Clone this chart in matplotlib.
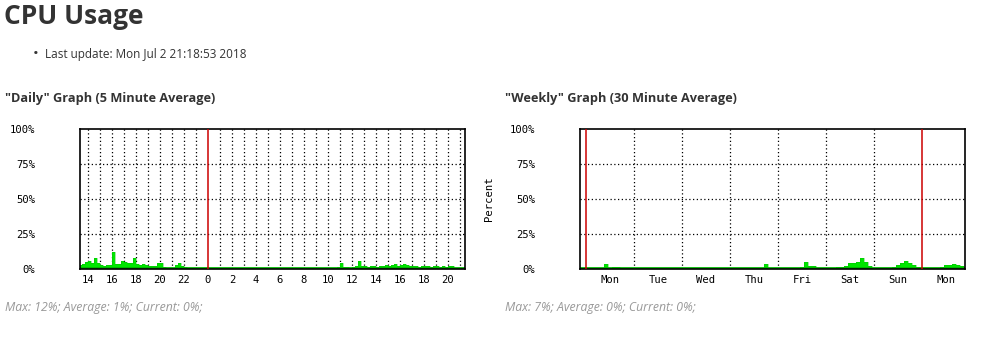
import numpy as np
import matplotlib
matplotlib.use("Agg")
import matplotlib.pyplot as plt

# ------------------ CONFIG ------------------
W, H = 982, 342
HEAD_FONT = ["Open Sans", "DejaVu Sans"]
TICK_FONT = "DejaVu Sans Mono"
FILL_GREEN = "#00e600"
EDGE_GREEN = "#00b400"
RED = "#cc0000"
DOTTED = (0, (1, 2))

# daily graph: CPU % sampled every 15 minutes, hours relative to midnight
DAILY_START = -10.75
DAILY_STEP = 0.25
DAILY_CPU = [
    3, 3.5, 5, 5.5, 4, 8, 4.5, 3, 2.5, 3, 3, 12.5, 3.5, 3.5, 6, 5,
    4, 4, 8, 3.5, 3, 3.5, 3, 2.5, 2, 2, 4.5, 4, 1.5, 1, 1, 1,
    3, 4.5, 2, 1.5, 1, 0.5, 0.5, 0.5, 0.5, 0.5, 0.5,
    0.3, 1, 0.3, 0.3, 0.3, 0.3, 0.3, 0.3, 0.3, 1, 0.3, 0.3, 0.3, 0.3, 0.3, 0.3,
    0.3, 0.3, 0.3, 0.3, 0.3, 0.3, 0.3, 0.3, 0.3, 0.3, 0.3, 0.3, 0.3, 0.3, 0.3,
    0.3, 0.3, 0.3, 0.3, 0.3, 1, 0.3, 0.3, 1, 0.3, 0.3, 0.5, 1.5,
    4.5, 1.5, 1.5, 1, 1.5, 2, 6, 2.5, 2, 1.5, 2, 2, 1.5, 2, 2.5, 3,
    2.5, 3, 3.5, 2.5, 3, 3.5, 3, 2, 2.5, 2, 1.5, 2, 2.5, 2, 1.5, 2,
    2, 1.5, 2, 1.5, 2, 2, 1, 1, 1,
]
DAILY_TICKS = list(range(-10, 21, 2))
DAILY_LABELS = [str(h % 24) for h in DAILY_TICKS]

# weekly graph: CPU % every 2 hours, hours relative to Monday 00:00
WEEKLY_START = -3
WEEKLY_STEP = 2
WEEKLY_CPU = [
    0.3, 0.3, 0.3, 0.3, 0.3, 0.3, 3.5, 1, 1.5, 1.5, 0.5,
    0.3, 0.3, 0.3, 0.3, 0.3, 0.3, 0.3, 0.3, 0.3, 0.3, 0.3, 0.3,
    0.3, 0.3, 0.3, 0.3, 0.3, 0.3, 0.3, 0.3, 0.3, 0.3, 0.3, 0.3,
    0.3, 0.3, 0.3, 0.3, 0.3, 0.3, 0.3, 0.3, 0.3, 0.3, 0.3,
    3.5, 0.3, 0.3, 0.3, 0.3, 0.3, 0.3, 0.3, 0.3,
    1.5, 5, 2.5, 2, 0.5, 0.3, 0.3, 0.3, 0.3,
    1.5, 1.5, 2.5, 4, 4.5, 5, 8, 5, 2, 0.5, 0.3, 0.3, 0.3, 0.3,
    1.5, 3, 4, 6, 4, 3, 1.5, 0.3, 0.3, 0.3, 0.3,
    0.5, 1.5, 3, 3, 3.5, 3, 2, 0.5,
]
WEEKLY_TICKS = [12 + 24 * d for d in range(8)]
WEEKLY_LABELS = ["Mon", "Tue", "Wed", "Thu", "Fri", "Sat", "Sun", "Mon"]

Y_TICKS = [0, 25, 50, 75, 100]
Y_LABELS = ["0%", "25%", "50%", "75%", "100%"]


def px(x, y):
    # pixel position (from top-left) to figure fraction
    return x / W, 1 - y / H


def axes_rect(left, top, right, bottom):
    return [left / W, 1 - bottom / H, (right - left) / W, (bottom - top) / H]


def draw_graph(ax, start, step, values, xlim, vgrid, red_lines, ticks, labels):
    t = start + step * np.arange(len(values))
    ax.fill_between(t, 0, values, step="post", color=FILL_GREEN, lw=0, zorder=2)
    ax.step(t, values, where="post", color=EDGE_GREEN, lw=0.5, alpha=0.5, zorder=2)
    ax.axhline(0.5, color=EDGE_GREEN, lw=2, zorder=2)

    for x in vgrid:
        ax.axvline(x, color="black", lw=0.9, linestyle=DOTTED, zorder=1)
    for y in (25, 50, 75):
        ax.axhline(y, color="black", lw=0.9, linestyle=DOTTED, zorder=1)
    for x in red_lines:
        ax.axvline(x, color=RED, lw=1.1, zorder=3)

    ax.set_xlim(*xlim)
    ax.set_ylim(0, 100)
    ax.set_xticks(ticks)
    ax.set_xticklabels(labels, family=TICK_FONT, fontsize=7.6)
    ax.set_yticks(Y_TICKS)
    ax.set_yticklabels(Y_LABELS, family=TICK_FONT, fontsize=7.6)
    ax.tick_params(axis="x", length=0, pad=4)
    ax.tick_params(axis="y", length=0, pad=32)
    for s in ax.spines.values():
        s.set_color("black")
        s.set_linewidth(1.2)


def main():
    fig = plt.figure(figsize=(W / 100, H / 100), dpi=100)
    fig.patch.set_facecolor("white")

    fig.text(*px(4, 24), "CPU Usage", family=HEAD_FONT, fontsize=19, weight="bold",
             color="#333333", va="baseline")
    fig.text(*px(33, 58), "\u2022", family=HEAD_FONT, fontsize=11, color="#333333", va="baseline")
    fig.text(*px(45, 58), "Last update: Mon Jul 2 21:18:53 2018", family=HEAD_FONT,
             fontsize=8.5, color="#333333", va="baseline")

    fig.text(*px(5, 102), "\"Daily\" Graph (5 Minute Average)", family=HEAD_FONT,
             fontsize=9.2, weight="bold", color="#333333", va="baseline")
    fig.text(*px(505, 102), "\"Weekly\" Graph (30 Minute Average)", family=HEAD_FONT,
             fontsize=9.2, weight="bold", color="#333333", va="baseline")

    ax1 = fig.add_axes(axes_rect(80, 129, 465, 269))
    draw_graph(ax1, DAILY_START, DAILY_STEP, DAILY_CPU, (-10.67, 21.42),
               [h for h in range(-10, 22) if h != 0], [0], DAILY_TICKS, DAILY_LABELS)

    ax2 = fig.add_axes(axes_rect(580, 129, 965, 269))
    draw_graph(ax2, WEEKLY_START, WEEKLY_STEP, WEEKLY_CPU, (-3, 189.5),
               [24 * d for d in range(1, 7)], [0, 168], WEEKLY_TICKS, WEEKLY_LABELS)

    fig.text(*px(489, 199), "Percent", family=TICK_FONT, fontsize=7.6, rotation=90,
             ha="center", va="center")

    fig.text(*px(5, 311), "Max: 12%; Average: 1%; Current: 0%;", family=HEAD_FONT,
             fontsize=8.8, style="italic", color="#999999", va="baseline")
    fig.text(*px(505, 311), "Max: 7%; Average: 0%; Current: 0%;", family=HEAD_FONT,
             fontsize=8.8, style="italic", color="#999999", va="baseline")

    fig.savefig("out.png", dpi=100)
    plt.close(fig)


if __name__ == "__main__":
    main()
